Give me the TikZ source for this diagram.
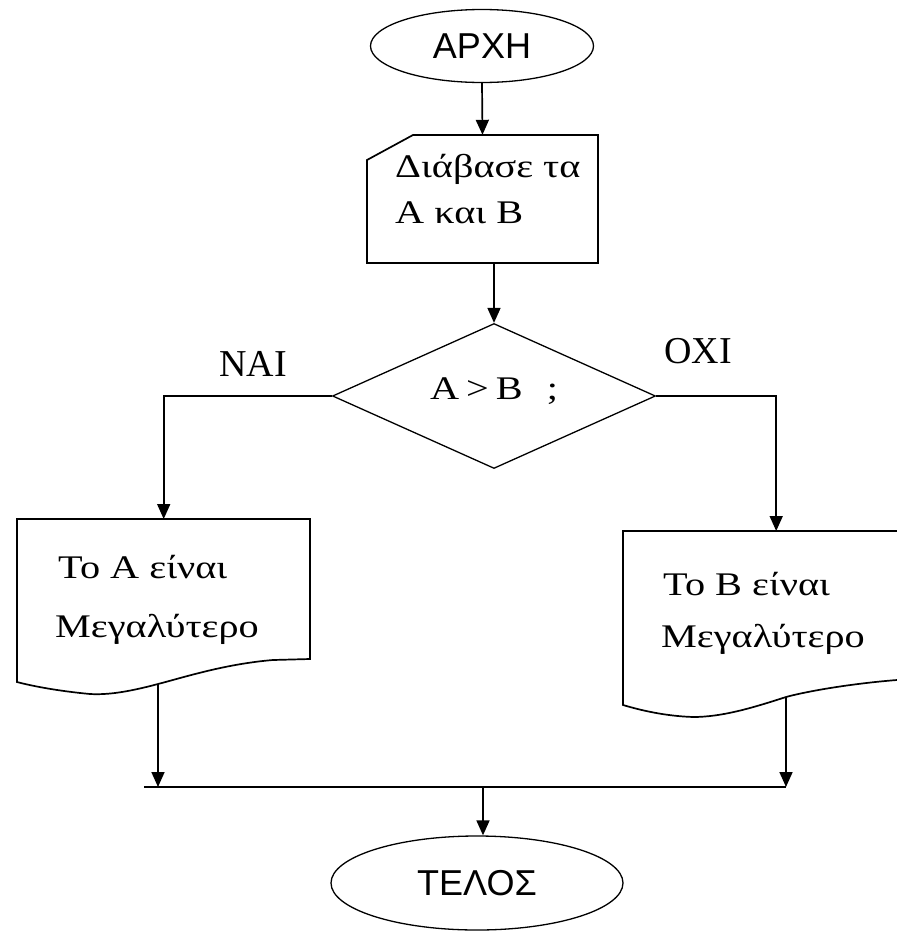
\documentclass[tikz,border=0pt]{standalone}
\usepackage{fontspec}
\setmainfont{Liberation Serif}
\newfontfamily\sansf{Liberation Sans}
\newfontfamily\widef[FakeStretch=1.22]{Liberation Serif}
\usetikzlibrary{shapes.geometric,arrows.meta}
\begin{document}
\begin{tikzpicture}[x=1pt,y=-1pt,
  ln/.style={line width=1.7pt, black},
  arr/.style={ln, -{Triangle[length=15pt,width=13pt]}},
  term/.style={ellipse, draw, line width=1.3pt, inner sep=0pt, font=\sansf\fontsize{36}{40}\selectfont},
  box/.style={draw=none, inner sep=0pt},
  txt/.style={inner sep=0pt, anchor=base west, font=\widef\fontsize{33}{36}\selectfont},
  lbl/.style={inner sep=0pt, anchor=base, font=\fontsize{38}{42}\selectfont}]
\useasboundingbox (0,0) rectangle (897,932);
\clip (0,0) rectangle (897,932);

% start
\node[term, minimum width=223pt, minimum height=73pt] (start) at (482,46) {\raisebox{-4pt}{ΑΡΧΗ}};

% input (manual input)
\node[box, minimum width=231pt, minimum height=128pt] (input) at (482.5,199) {};
\draw[ln] (367,160) -- (413,135) -- (598,135) -- (598,263) -- (367,263) -- cycle;
\node[txt] (in1) at (395,177) {Διάβασε τα};
\node[txt] (in2) at (395,223) {Α και Β};

% decision
\node[diamond, draw, line width=1.3pt, minimum width=323pt, minimum height=145pt, inner sep=0pt] (dia) at (494,396) {};
\node[txt] (cond) at (430,399) {Α\kern7pt>\kern7ptΒ\hspace{24pt};};
\node[lbl] (yes) at (253,376) {ΝΑΙ};
\node[lbl] (no) at (698,363) {ΟΧΙ};

% document A
\node[box, minimum width=293pt, minimum height=175pt, anchor=north west] (docA) at (17,519) {};
\draw[ln] (17,519) -- (310,519) -- (310,659) -- (273,660)
  .. controls (225,664) and (185,677) .. (158,684)
  .. controls (128,692) and (108,695) .. (90,694)
  .. controls (58,691) and (32,686) .. (17,682) -- cycle;
\node[txt] (a1) at (58,578) {Το Α είναι};
\node[txt] (a2) at (55,637) {Μεγαλύτερο};
\coordinate (oA) at (158,684);

% document B
\node[box, minimum width=306pt, minimum height=186pt, anchor=north west] (docB) at (623,531) {};
\draw[ln] (623,531) -- (910,531) -- (910,679) -- (897,680)
  .. controls (858,683) and (812,690) .. (786,697)
  .. controls (752,708) and (722,717) .. (693,717)
  .. controls (664,716) and (640,710) .. (623,705) -- cycle;
\node[txt] (b1) at (663,595) {Το Β είναι};
\node[txt] (b2) at (661,647) {Μεγαλύτερο};
\coordinate (oB) at (786,697);

% junction
\coordinate (jL) at (144,787);
\coordinate (jR) at (786,787);
\coordinate (jn) at (483,787);

% end
\node[term, minimum width=292pt, minimum height=94pt] (end) at (477,883) {\raisebox{-5pt}{ΤΕΛΟΣ}};

% connectors
\draw[arr] (start.south) -- (input.north);
\draw[arr] (dia.north |- input.south) -- (dia.north);
\draw[arr] (dia.west) -| (docA.north);
\draw[arr] (dia.east) -| (docB.north);
\draw[arr] (oA) -- (oA |- jL);
\draw[arr] (oB) -- (jR);
\draw[ln] (jL) -- (jR);
\draw[arr] (jn) -- (jn |- end.north);
\end{tikzpicture}
\end{document}
